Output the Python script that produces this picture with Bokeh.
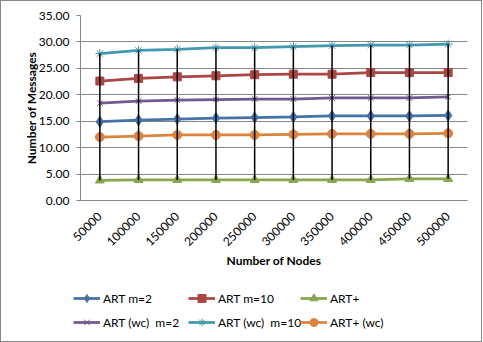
from bokeh.plotting import figure
from bokeh.layouts import column
from bokeh.models import (Range1d, FixedTicker, NumeralTickFormatter, Legend,
                          LegendItem)
from bokeh.embed import file_html
from bokeh.resources import INLINE

nodes = ["50000", "100000", "150000", "200000", "250000",
         "300000", "350000", "400000", "450000", "500000"]
art_m2 = [14.9, 15.2, 15.4, 15.6, 15.7, 15.8, 16.0, 16.0, 16.0, 16.1]
art_m10 = [22.6, 23.1, 23.4, 23.6, 23.8, 23.9, 23.9, 24.2, 24.2, 24.2]
art_plus = [3.8, 3.9, 3.9, 3.9, 3.9, 3.9, 3.9, 3.9, 4.1, 4.1]
art_wc_m2 = [18.4, 18.8, 19.0, 19.1, 19.2, 19.2, 19.4, 19.4, 19.4, 19.6]
art_wc_m10 = [27.8, 28.4, 28.6, 28.9, 28.9, 29.1, 29.3, 29.4, 29.4, 29.6]
art_plus_wc = [12.0, 12.2, 12.4, 12.4, 12.4, 12.5, 12.6, 12.6, 12.6, 12.7]
y_ticks = [0, 5, 10, 15, 20, 25, 30, 35]

FONT = "Lato"
GRID = "#868686"

p = figure(width=480, height=279, x_range=nodes, y_range=Range1d(0, 35),
           output_backend="svg", toolbar_location=None,
           min_border_left=79, min_border_right=14, min_border_top=14,
           min_border_bottom=80)
p.frame_align = False
p.outline_line_color = None
p.background_fill_color = "white"
p.border_fill_color = "white"

p.xgrid.grid_line_color = None
p.ygrid.grid_line_color = GRID
p.ygrid.grid_line_width = 1

p.yaxis.ticker = FixedTicker(ticks=y_ticks)
p.yaxis.formatter = NumeralTickFormatter(format="0.00")
p.yaxis.axis_line_color = GRID
p.yaxis.major_tick_line_color = GRID
p.yaxis.major_tick_out = 4
p.yaxis.major_tick_in = 0
p.yaxis.minor_tick_line_color = None
p.yaxis.major_label_standoff = 7
p.yaxis.axis_label = "Number of Messages"
p.yaxis.axis_label_standoff = -3

p.xaxis.axis_line_color = GRID
p.xaxis.major_tick_line_color = None
p.xaxis.major_tick_out = 0
p.xaxis.major_label_orientation = 0.785398
p.xaxis.major_label_standoff = 14
p.xaxis.axis_label = "Number of Nodes"
p.xaxis.axis_label_standoff = 0

for ax in (p.xaxis[0], p.yaxis[0]):
    ax.major_label_text_font = FONT
    ax.major_label_text_font_size = "12px"
    ax.major_label_text_color = "black"
    ax.axis_label_text_font = FONT
    ax.axis_label_text_font_size = "12px"
    ax.axis_label_text_font_style = "bold"
    ax.axis_label_text_color = "black"

series = [
    ("ART m=2", art_m2, "#4572A7", "diamond", 11),
    ("ART m=10", art_m10, "#AA4643", "square", 8),
    ("ART+", art_plus, "#89A54E", "triangle", 9),
    ("ART (wc)  m=2", art_wc_m2, "#71588F", "x", 8),
    ("ART (wc)  m=10", art_wc_m10, "#4198AF", "asterisk", 9),
    ("ART+ (wc)", art_plus_wc, "#DB843D", "circle", 9),
]

for name, vals, color, marker, size in series:
    p.line(nodes, vals, line_color=color, line_width=2.75)
    p.scatter(nodes, vals, marker=marker, size=size, fill_color=color,
              line_color=color, line_width=1)

# high-low lines
p.segment(x0=nodes, y0=art_plus, x1=nodes, y1=art_wc_m10,
          line_color="black", line_width=1.5)

# legend strip: same series, drawn outside its visible range, so only the
# legend entries show
leg = figure(width=480, height=61, x_range=nodes, y_range=Range1d(100, 101),
             output_backend="svg", toolbar_location=None,
             x_axis_location=None, y_axis_location=None,
             min_border=0, min_border_left=0, min_border_right=0,
             min_border_top=0, min_border_bottom=0)
leg.frame_align = False
leg.outline_line_color = None
leg.xgrid.grid_line_color = None
leg.ygrid.grid_line_color = None

items = []
for name, vals, color, marker, size in series:
    ln = leg.line(nodes, vals, line_color=color, line_width=2.75)
    sc = leg.scatter(nodes, vals, marker=marker, size=size, fill_color=color,
                     line_color=color, line_width=1)
    items.append(LegendItem(label=name, renderers=[ln, sc]))

col_x = [72, 187, 299]
for i, cx in enumerate(col_x):
    lg = Legend(items=[items[i], items[i + 3]], location=(cx, 9),
                orientation="vertical", padding=0, margin=0, spacing=4,
                label_height=20, glyph_height=20, glyph_width=27,
                label_standoff=3, label_text_font=FONT,
                label_text_font_size="12px", label_text_color="black",
                background_fill_alpha=0, border_line_color=None)
    leg.add_layout(lg, "center")

layout = column(p, leg, spacing=0)
layout.styles = {"border": "1px solid #868686"}

open("out.html", "w").write(file_html(layout, INLINE))
